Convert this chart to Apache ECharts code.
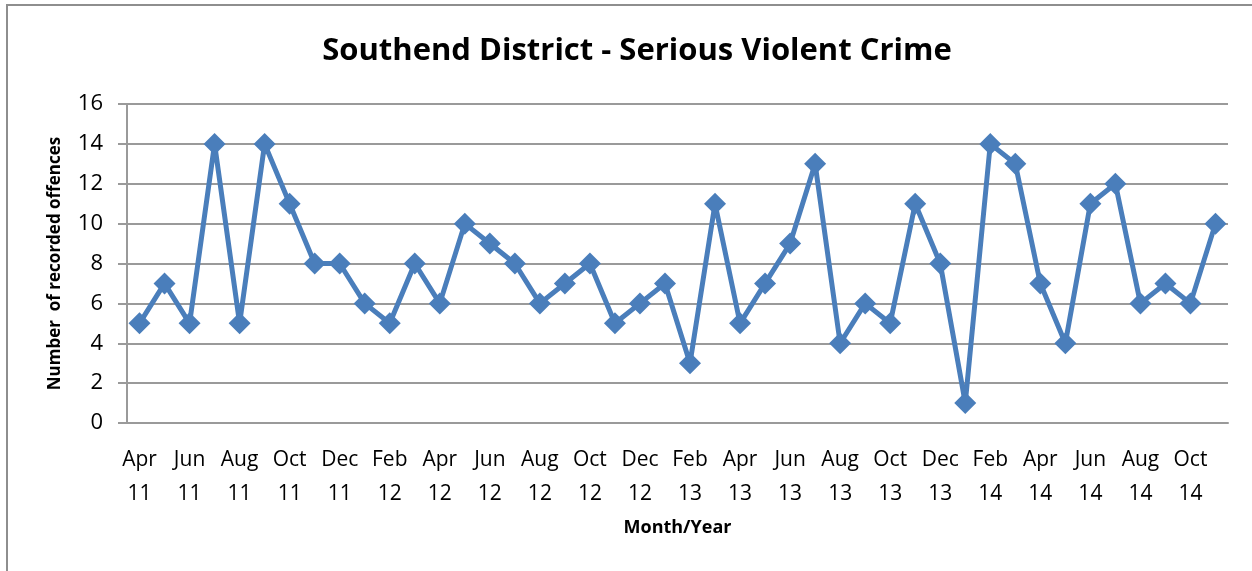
<!DOCTYPE html>
<html>
<head>
<meta charset="utf-8">
<script src="https://cdn.jsdelivr.net/npm/echarts@6/dist/echarts.min.js"></script>
<style>
  html, body { margin: 0; padding: 0; background: #fff; }
  #frame { position: absolute; left: 6px; top: 4px; width: 1300px; height: 620px; border: 2px solid #8e8e8e; }
  #main { position: absolute; left: 0; top: 0; width: 1252px; height: 571px; }
</style>
</head>
<body>
<div id="frame"></div>
<div id="main"></div>
<script>
// month labels, Apr 2011 .. Nov 2014
var months = [
  "Apr 11", "May 11", "Jun 11", "Jul 11", "Aug 11", "Sep 11", "Oct 11", "Nov 11", "Dec 11",
  "Jan 12", "Feb 12", "Mar 12", "Apr 12", "May 12", "Jun 12", "Jul 12", "Aug 12", "Sep 12", "Oct 12", "Nov 12", "Dec 12",
  "Jan 13", "Feb 13", "Mar 13", "Apr 13", "May 13", "Jun 13", "Jul 13", "Aug 13", "Sep 13", "Oct 13", "Nov 13", "Dec 13",
  "Jan 14", "Feb 14", "Mar 14", "Apr 14", "May 14", "Jun 14", "Jul 14", "Aug 14", "Sep 14", "Oct 14", "Nov 14"
];
// recorded offences per month
var offences = [
  5, 7, 5, 14, 5, 14, 11, 8, 8,
  6, 5, 8, 6, 10, 9, 8, 6, 7, 8, 5, 6,
  7, 3, 11, 5, 7, 9, 13, 4, 6, 5, 11, 8,
  1, 14, 13, 7, 4, 11, 12, 6, 7, 6, 10
];

var chart = echarts.init(document.getElementById("main"));
var font = "Open Sans";

var option = {
  backgroundColor: "transparent",
  animation: false,
  title: {
    text: "Southend District - Serious Violent Crime",
    left: 632,
    top: 31,
    textAlign: "center",
    textStyle: { fontFamily: font, fontSize: 31, fontWeight: "bold", color: "#000" }
  },
  grid: { left: 127, right: 24, top: 104, bottom: 148 },
  xAxis: {
    type: "category",
    data: months,
    boundaryGap: true,
    name: "Month/Year",
    nameLocation: "middle",
    nameGap: 96,
    nameTextStyle: { fontFamily: font, fontSize: 18, fontWeight: "bold", color: "#000" },
    axisLine: { lineStyle: { color: "#9a9a9a", width: 2 } },
    axisTick: { show: false },
    axisLabel: {
      interval: 1,
      margin: 20,
      fontFamily: font,
      fontSize: 21,
      lineHeight: 34,
      color: "#000",
      formatter: function (v) { return v.replace(" ", "\n"); }
    }
  },
  yAxis: {
    type: "value",
    min: 0,
    max: 16,
    interval: 2,
    name: "Number  of recorded offences",
    nameLocation: "middle",
    nameGap: 63,
    nameTextStyle: { fontFamily: font, fontSize: 17, fontWeight: "bold", color: "#000" },
    axisLine: { show: true, lineStyle: { color: "#9a9a9a", width: 2 } },
    axisTick: { show: true, length: 9, lineStyle: { color: "#9a9a9a", width: 2 } },
    axisLabel: { margin: 24, fontFamily: font, fontSize: 22, color: "#000" },
    splitLine: { lineStyle: { color: "#9a9a9a", width: 2 } }
  },
  series: [
    {
      name: "Offences",
      type: "line",
      data: offences,
      symbol: "diamond",
      symbolSize: 22,
      showAllSymbol: true,
      lineStyle: { color: "#4A7EBB", width: 5 },
      itemStyle: { color: "#4A7EBB" }
    }
  ]
};

chart.setOption(option);
</script>
</body>
</html>
